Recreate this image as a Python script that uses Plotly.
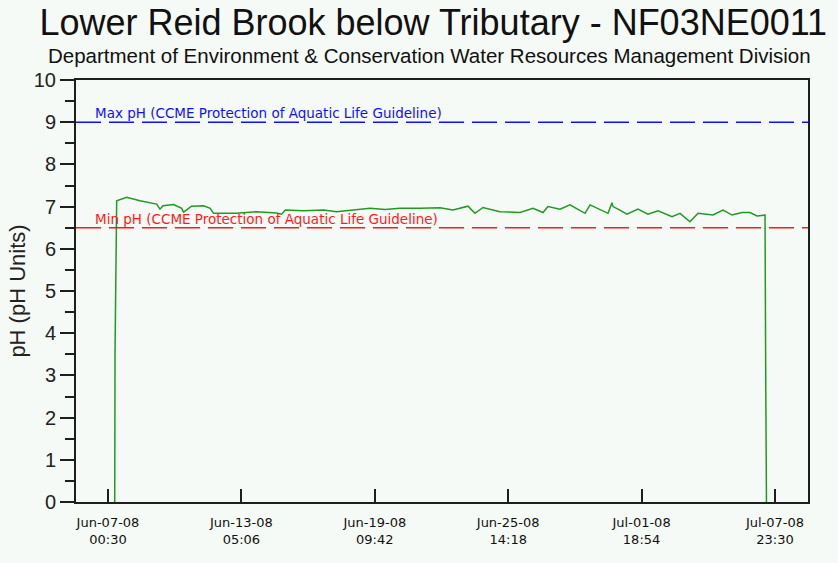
import plotly.graph_objects as go
import pandas as pd

# ---- data ----
times = [
    "2008-06-07 08:00", "2008-06-07 08:20", "2008-06-07 10:10", "2008-06-07 21:20",
    "2008-06-08 12:06", "2008-06-09 06:42", "2008-06-09 10:24", "2008-06-09 13:48",
    "2008-06-10 01:36", "2008-06-10 10:30", "2008-06-10 12:42", "2008-06-10 21:36",
    "2008-06-11 11:00", "2008-06-11 18:24", "2008-06-11 22:06", "2008-06-12 23:42",
    "2008-06-13 22:00", "2008-06-14 20:18", "2008-06-15 01:54", "2008-06-15 06:00",
    "2008-06-16 02:24", "2008-06-17 00:42", "2008-06-17 15:06", "2008-06-18 17:12",
    "2008-06-19 04:24", "2008-06-19 21:06", "2008-06-20 13:48", "2008-06-21 12:06",
    "2008-06-22 10:18", "2008-06-23 00:48", "2008-06-23 17:30", "2008-06-24 01:18",
    "2008-06-24 10:12", "2008-06-25 05:12", "2008-06-26 03:30", "2008-06-26 17:54",
    "2008-06-27 05:06", "2008-06-27 10:36", "2008-06-28 00:00", "2008-06-28 11:06",
    "2008-06-29 03:54", "2008-06-29 09:30", "2008-06-29 17:12", "2008-06-30 05:30",
    "2008-06-30 09:54", "2008-06-30 11:06", "2008-06-30 16:36", "2008-07-01 02:36",
    "2008-07-01 14:54", "2008-07-02 02:00", "2008-07-02 13:12", "2008-07-03 04:48",
    "2008-07-03 13:42", "2008-07-04 00:48", "2008-07-04 09:48", "2008-07-05 02:30",
    "2008-07-05 13:36", "2008-07-05 23:42", "2008-07-06 10:42", "2008-07-06 19:42",
    "2008-07-07 03:30", "2008-07-07 12:24", "2008-07-07 13:06", "2008-07-07 14:00",
]
ph_values = [
    0.0, 3.55, 7.14, 7.22,
    7.14, 7.06, 6.94, 7.02,
    7.05, 6.96, 6.87, 7.01,
    7.02, 6.96, 6.84, 6.84,
    6.88, 6.85, 6.82, 6.92,
    6.90, 6.92, 6.88, 6.94,
    6.96, 6.93, 6.96, 6.96,
    6.97, 6.92, 7.01, 6.84,
    6.98, 6.88, 6.86, 6.96,
    6.86, 7.00, 6.94, 7.04,
    6.84, 7.04, 6.96, 6.84,
    7.09, 7.00, 6.94, 6.82,
    6.94, 6.82, 6.90, 6.76,
    6.84, 6.64, 6.84, 6.80,
    6.92, 6.80, 6.86, 6.86,
    6.78, 6.80, 3.36, 0.0,
]

max_ph = 9.0
min_ph = 6.5
max_label = "Max pH (CCME Protection of Aquatic Life Guideline)"
min_label = "Min pH (CCME Protection of Aquatic Life Guideline)"

tick_times = ["2008-06-07 00:30", "2008-06-13 05:06", "2008-06-19 09:42",
              "2008-06-25 14:18", "2008-07-01 18:54", "2008-07-07 23:30"]
tick_text = ["Jun-07-08<br>00:30", "Jun-13-08<br>05:06", "Jun-19-08<br>09:42",
             "Jun-25-08<br>14:18", "Jul-01-08<br>18:54", "Jul-07-08<br>23:30"]
x_range = ["2008-06-05 12:51", "2008-07-09 12:17"]
y_ticks = list(range(0, 11))

title_text = "Lower Reid Brook below Tributary - NF03NE0011"
subtitle_text = "Department of Environment & Conservation Water Resources Management Division"
y_title = "pH (pH Units)"

BG = "#f5faf6"
AX = "#1e1e1e"

fig = go.Figure()
fig.add_trace(go.Scatter(
    x=pd.to_datetime(times), y=ph_values, mode="lines",
    line=dict(color="#229a22", width=1.5), showlegend=False, hoverinfo="x+y"))

for val, col, lab in [(max_ph, "#1010ff", max_label), (min_ph, "#ff1a1a", min_label)]:
    fig.add_shape(type="line", xref="paper", x0=0, x1=1, yref="y", y0=val, y1=val,
                  line=dict(color=col, width=1.5, dash="25px,8px"), layer="above")
    fig.add_annotation(xref="paper", x=0.0232, yref="y", y=val, xanchor="left",
                       yanchor="middle", yshift=9, text=lab, showarrow=False,
                       font=dict(family="DejaVu Sans", size=13.5, color=col))

fig.add_annotation(xref="paper", yref="paper", x=0.483, y=1.0569, xanchor="center",
                   yanchor="middle", text=subtitle_text, showarrow=False,
                   font=dict(family="Liberation Sans, Arial", size=20.5, color="#111"))

fig.update_layout(
    width=838, height=563,
    margin=dict(l=76, r=30, t=80, b=61, autoexpand=False),
    paper_bgcolor=BG, plot_bgcolor=BG,
    title=dict(text=title_text, x=0.517, xanchor="center", xref="container",
               y=1 - 22 / 563, yanchor="middle", yref="container",
               font=dict(family="Liberation Sans, Arial", size=36, color="#111")),
    showlegend=False,
)
fig.update_xaxes(
    type="date", range=x_range, tickvals=pd.to_datetime(tick_times), ticktext=tick_text,
    ticks="inside", ticklen=13, tickwidth=1.5, tickcolor=AX,
    showline=True, linecolor=AX, linewidth=2, mirror=True,
    showgrid=False, zeroline=False, ticklabelstandoff=7,
    tickfont=dict(family="DejaVu Sans", size=13, color="#111"),
)
fig.update_yaxes(
    range=[0, 10], tickvals=y_ticks, ticks="outside", ticklen=14, tickwidth=1.5,
    tickcolor=AX, showline=True, linecolor=AX, linewidth=2, mirror=True,
    showgrid=False, zeroline=False,
    minor=dict(dtick=0.5, tick0=0, ticks="outside", ticklen=9, tickwidth=1.5, tickcolor=AX),
    tickfont=dict(family="Liberation Sans, Arial", size=20, color="#222"),
    title=dict(text=y_title, standoff=2,
               font=dict(family="Liberation Sans, Arial", size=22, color="#222")),
)

fig.write_html(
    "out.html",
    config={"displayModeBar": False},
    post_script="document.body.style.margin='0';document.body.style.background='%s';" % BG,
)
